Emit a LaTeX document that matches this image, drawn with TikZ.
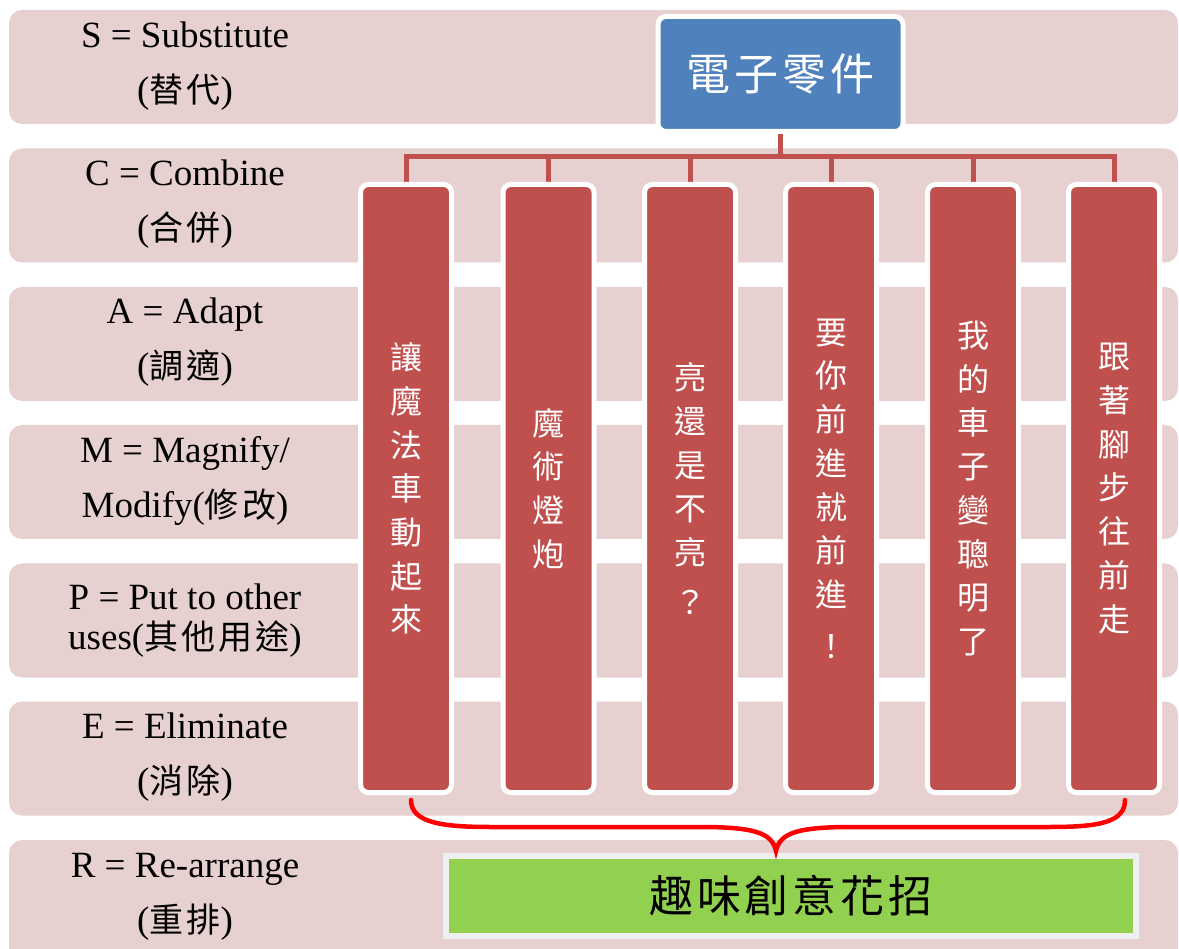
\documentclass[tikz,border=0pt]{standalone}
\usepackage{fontspec}
\setmainfont{Liberation Serif}
\newfontfamily\cjk{Noto Sans CJK TC}
\newfontfamily\cjkwide[LetterSpace=9]{Noto Sans CJK TC}
\definecolor{bandpink}{HTML}{E7D0D0}
\definecolor{boxred}{HTML}{C0504D}
\definecolor{boxblue}{HTML}{4F81BD}
\definecolor{boxgreen}{HTML}{92D050}
\definecolor{rimgray}{HTML}{F0F0F0}
\definecolor{bracered}{HTML}{FF0000}
\pgfdeclarelayer{bandlayer}
\pgfdeclarelayer{linklayer}
\pgfsetlayers{bandlayer,linklayer,main}
\newcommand{\lblcjk}[1]{{\cjkwide\fontsize{34}{55}\selectfont #1}}
\begin{document}
\begin{tikzpicture}[x=1pt,y=-1pt,
  bandbox/.style={fill=bandpink, rounded corners=13pt},
  lbl/.style={align=center, inner sep=0pt, font=\fontsize{37}{55}\selectfont},
  redbox/.style={fill=boxred, draw=white, line width=5pt, rounded corners=8pt,
     minimum width=91pt, minimum height=608pt, inner sep=0pt, align=center,
     text=white, font=\cjk\fontsize{32}{43.7}\selectfont},
  conn/.style={draw=boxred, line width=5pt},
  bracestyle/.style={draw=bracered, line width=4.5pt, line cap=round}]
\useasboundingbox (0,0) rectangle (1179,949);
\clip (0,0) rectangle (1179,949);
\begin{pgfonlayer}{bandlayer}
\fill[white] (0,0) rectangle (1179,949);
\foreach \t in {10,148.5,287,425,563.5,701.5}{
  \fill[bandbox] (9,\t) rectangle (1178,\t+114);
}
\fill[bandbox] (9,840) rectangle (1178,975);
\end{pgfonlayer}
% left labels
\node[lbl] (l1) at (185,66.5) {S = Substitute\\(\lblcjk{替代})};
\node[lbl] (l2) at (185,204) {C = Combine\\(\lblcjk{合併})};
\node[lbl] (l3) at (185,342.5) {A = Adapt\\(\lblcjk{調適})};
\node[lbl] (l4) at (185,480.5) {M = Magnify/\\Modify(\lblcjk{修改})};
\node[lbl, font=\fontsize{37}{40}\selectfont] (l5) at (185,621) {P = Put to other\\uses({\cjkwide\fontsize{34}{40}\selectfont 其他用途})};
\node[lbl] (l6) at (185,757) {E = Eliminate\\(\lblcjk{消除})};
\node[lbl] (l7) at (185,896.5) {R = Re-arrange\\(\lblcjk{重排})};
% top box
\node[fill=boxblue, draw=white, line width=5pt, rounded corners=8pt,
      minimum width=245pt, minimum height=115pt, inner sep=0pt,
      text=white, font=\cjkwide\fontsize{44}{44}\selectfont] (top) at (780.5,74) {電子零件};
\coordinate (hub) at (780.5,157);
% red boxes
\node[redbox] (b1) at (406,488.5) {讓\\魔\\法\\車\\動\\起\\來};
\node[redbox] (b2) at (548.5,488.5) {魔\\術\\燈\\炮};
\node[redbox] (b3) at (690,488.5) {亮\\還\\是\\不\\亮\\[6pt]？};
\node[redbox] (b4) at (831,488.5) {要\\你\\前\\進\\就\\前\\進\\[8pt]！};
\node[redbox] (b5) at (973,488.5) {我\\的\\車\\子\\變\\聰\\明\\了};
\node[redbox] (b6) at (1114,488.5) {跟\\著\\腳\\步\\往\\前\\走};
% connectors behind the boxes
\begin{pgfonlayer}{linklayer}
\draw[conn] (top.south) -- (hub);
\foreach \b in {b1,b2,b3,b4,b5,b6}{
  \draw[conn] (hub) -| (\b.north);
}
\end{pgfonlayer}
% green result box
\node[fill=boxgreen, draw=rimgray, line width=6pt, minimum width=690pt,
      minimum height=80pt, inner sep=0pt,
      font=\cjkwide\fontsize{44}{44}\selectfont] (res) at (791,895.5) {趣味創意花招};
% brace
\coordinate (bl) at (411,800);
\coordinate (br) at (1125,800);
\coordinate (tip) at (776,851);
\draw[bracestyle] (bl) .. controls (411,822) and (440,827) .. (490,827)
   -- (700,827) .. controls (755,827) and (772,833) .. (tip)
   .. controls (780,833) and (797,827) .. (852,827)
   -- (1050,827) .. controls (1100,827) and (1125,822) .. (br);
\end{tikzpicture}
\end{document}
